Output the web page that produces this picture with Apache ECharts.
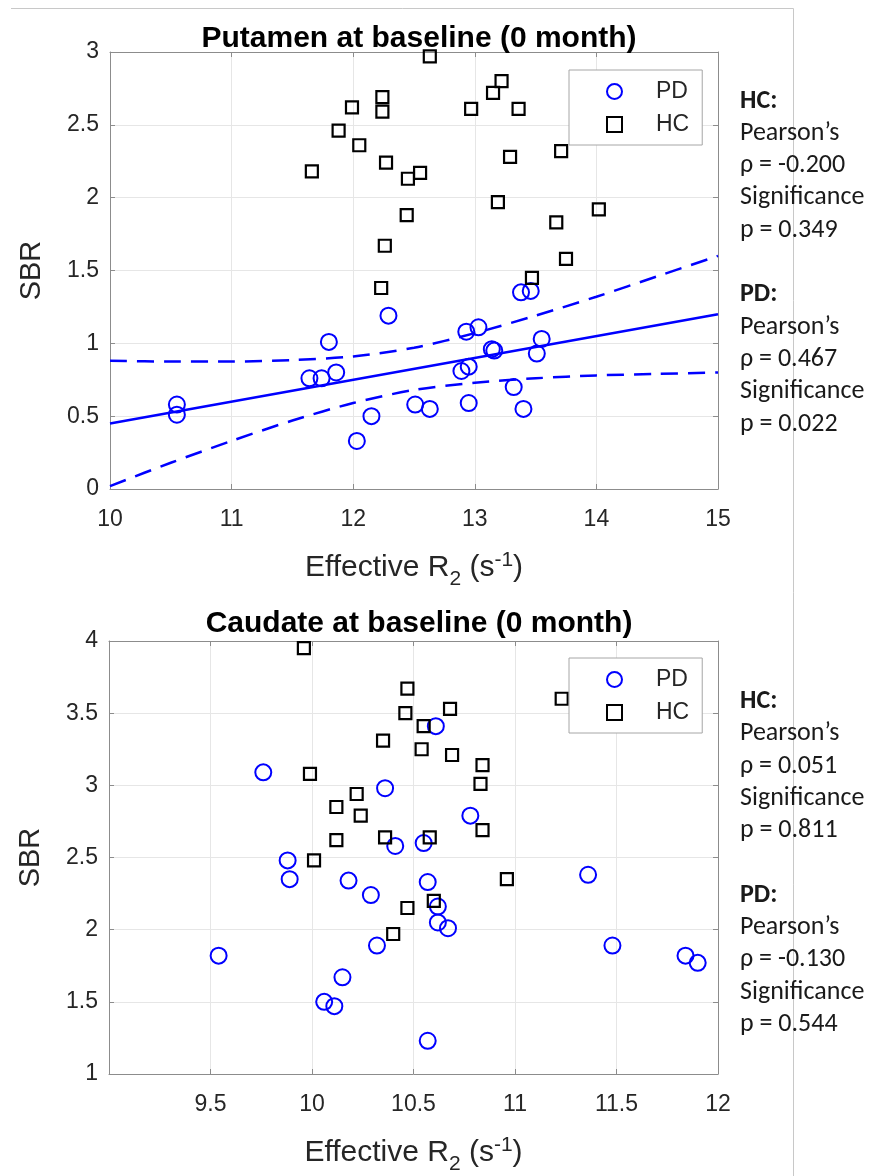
<!DOCTYPE html>
<html><head><meta charset="utf-8">
<script src="https://cdn.jsdelivr.net/npm/echarts@6/dist/echarts.min.js"></script>
<style>html,body{margin:0;padding:0;background:#fff}#c{width:877px;height:1176px}</style>
</head><body><div id="c"></div>
<script>
// ---- Putamen (top panel) ----
const pdPutX = [10.55,10.55,11.64,11.74,11.86,11.80,12.29,12.15,12.03,12.51,12.63,12.95,12.89,12.95,12.93,13.03,13.14,13.16,13.32,13.40,13.51,13.55,13.38,13.46];
const pdPutY = [0.58,0.51,0.76,0.76,0.80,1.01,1.19,0.50,0.33,0.58,0.55,0.59,0.81,0.84,1.08,1.11,0.96,0.95,0.70,0.55,0.93,1.03,1.35,1.36];
const hcPutX = [12.63,12.24,12.24,11.99,11.88,12.05,12.27,11.66,12.45,12.55,12.44,12.26,12.23,13.22,13.15,12.97,13.36,13.29,13.71,13.19,14.02,13.67,13.75,13.47];
const hcPutY = [2.97,2.69,2.59,2.62,2.46,2.36,2.24,2.18,2.13,2.17,1.88,1.67,1.38,2.80,2.72,2.61,2.61,2.28,2.32,1.97,1.92,1.83,1.58,1.45];
const fitPutX = [10, 15];
const fitPutY = [0.45, 1.20];
const ciPutX = [10,10.5,11,11.5,12,12.5,13,13.5,14,14.5,15];
const ciPutUpper = [0.88,0.875,0.875,0.885,0.91,0.97,1.07,1.19,1.32,1.46,1.60];
const ciPutLower = [0.02,0.18,0.33,0.47,0.59,0.68,0.73,0.76,0.78,0.79,0.80];

// ---- Caudate (bottom panel) ----
const pdCauX = [9.76,10.36,10.41,10.55,9.88,10.61,10.78,9.89,10.18,10.29,10.32,10.15,10.06,10.11,9.54,10.57,10.57,10.62,10.62,10.67,11.36,11.48,11.84,11.90];
const pdCauY = [3.09,2.98,2.58,2.60,2.48,3.41,2.79,2.35,2.34,2.24,1.89,1.67,1.50,1.47,1.82,1.23,2.33,2.16,2.05,2.01,2.38,1.89,1.82,1.77];
const hcCauX = [9.96,10.47,10.46,10.55,10.35,10.54,9.99,10.22,10.12,10.24,10.12,10.36,10.01,10.68,10.69,10.84,10.83,10.84,10.58,11.23,10.47,10.40,10.96,10.60];
const hcCauY = [3.95,3.67,3.50,3.41,3.31,3.25,3.08,2.94,2.85,2.79,2.62,2.64,2.48,3.53,3.21,3.14,3.01,2.69,2.64,3.60,2.15,1.97,2.35,2.20];

// ---- Text ----
const titles = ['Putamen at baseline (0 month)', 'Caudate at baseline (0 month)'];
const legendNames = ['PD', 'HC'];
const yName = 'SBR';
const annoPut = ['HC:', 'Pearson’s', 'ρ = -0.200', 'Significance', 'p = 0.349', '', 'PD:', 'Pearson’s', 'ρ = 0.467', 'Significance', 'p = 0.022'];
const annoCau = ['HC:', 'Pearson’s', 'ρ = 0.051', 'Significance', 'p = 0.811', '', 'PD:', 'Pearson’s', 'ρ = -0.130', 'Significance', 'p = 0.544'];

const zip = (a, b) => a.map((v, i) => [v, b[i]]);
const FONT = 'Liberation Sans, Arial, Helvetica, sans-serif';
const TXT = '#262626', AX = '#8c8c8c', GRIDC = '#e6e6e6', BLUE = '#0000ff';

const grids = [
  {left: 110, top: 52, width: 608, height: 437},
  {left: 109, top: 641, width: 609, height: 434}
];
const xr = [{min: 10, max: 15, interval: 1}, {min: 9, max: 12, interval: 0.5}];
const yr = [{min: 0, max: 3, interval: 0.5}, {min: 1, max: 4, interval: 0.5}];

const xNameRich = '{b|Effective R}{s|2}{b| (s}{p|-1}{b|)}';

const xAxes = [], yAxes = [];
[0, 1].forEach(g => {
  xAxes.push({
    type: 'value', gridIndex: g, position: 'bottom', min: xr[g].min, max: xr[g].max, interval: xr[g].interval,
    name: xNameRich, nameLocation: 'middle', nameGap: 57,
    nameTextStyle: {
      rich: {
        b: {fontSize: 30, fontFamily: FONT, color: TXT, lineHeight: 44, verticalAlign: 'middle'},
        s: {fontSize: 21, fontFamily: FONT, color: TXT, lineHeight: 20, verticalAlign: 'bottom'},
        p: {fontSize: 21, fontFamily: FONT, color: TXT, lineHeight: 20, verticalAlign: 'top', padding: [4, 0, 0, 0]}
      }
    },
    axisLine: {show: true, onZero: false, lineStyle: {color: AX, width: 1}},
    axisTick: {show: true, inside: true, length: 5, lineStyle: {color: AX}},
    axisLabel: {show: true, fontSize: 23, fontFamily: FONT, color: TXT, margin: 19,
      formatter: v => (g === 1 && v === 9) ? '' : String(v)},
    splitLine: {show: true, lineStyle: {color: GRIDC, width: 1}}
  });
  xAxes.push({
    type: 'value', gridIndex: g, position: 'top', min: xr[g].min, max: xr[g].max, interval: xr[g].interval,
    axisLine: {show: true, onZero: false, lineStyle: {color: AX, width: 1}},
    axisTick: {show: true, inside: true, length: 5, lineStyle: {color: AX}},
    axisLabel: {show: false}, splitLine: {show: false}
  });
  yAxes.push({
    type: 'value', gridIndex: g, position: 'left', min: yr[g].min, max: yr[g].max, interval: yr[g].interval,
    name: yName, nameLocation: 'middle', nameGap: 64, nameRotate: 90,
    nameTextStyle: {fontSize: 29, fontFamily: FONT, color: TXT},
    axisLine: {show: true, onZero: false, lineStyle: {color: AX, width: 1}},
    axisTick: {show: true, inside: true, length: 5, lineStyle: {color: AX}},
    axisLabel: {show: true, fontSize: 23, fontFamily: FONT, color: TXT, margin: 11},
    splitLine: {show: true, lineStyle: {color: GRIDC, width: 1}}
  });
  yAxes.push({
    type: 'value', gridIndex: g, position: 'right', min: yr[g].min, max: yr[g].max, interval: yr[g].interval,
    axisLine: {show: true, onZero: false, lineStyle: {color: AX, width: 1}},
    axisTick: {show: true, inside: true, length: 5, lineStyle: {color: AX}},
    axisLabel: {show: false}, splitLine: {show: false}
  });
});

function scat(name, data, g, isPD) {
  return {
    type: 'scatter', name: name, xAxisIndex: g * 2, yAxisIndex: g * 2, data: data,
    symbol: isPD ? 'circle' : 'rect', symbolSize: isPD ? 16 : 12,
    itemStyle: {color: 'rgba(255,255,255,0)', borderColor: isPD ? BLUE : '#000000', borderWidth: isPD ? 2 : 2.2, opacity: 1},
    emphasis: {disabled: true}, silent: true, z: 3
  };
}
function line(data, dashed) {
  return {
    type: 'line', xAxisIndex: 0, yAxisIndex: 0, data: data, symbol: 'none', smooth: dashed ? 0.3 : false,
    lineStyle: {color: BLUE, width: 2.5, type: dashed ? [17, 10] : 'solid'},
    emphasis: {disabled: true}, silent: true, z: 4
  };
}

const series = [
  scat('PD', zip(pdPutX, pdPutY), 0, true),
  scat('HC', zip(hcPutX, hcPutY), 0, false),
  line(zip(fitPutX, fitPutY), false),
  line(zip(ciPutX, ciPutUpper), true),
  line(zip(ciPutX, ciPutLower), true),
  scat('PD', zip(pdCauX, pdCauY), 1, true),
  scat('HC', zip(hcCauX, hcCauY), 1, false)
];

function legendAt(top) {
  return {
    left: 569, top: top, orient: 'vertical', data: legendNames,
    itemWidth: 15, itemHeight: 15, itemGap: 10, padding: [10, 13, 9, 37],
    borderColor: '#a6a6a6', borderWidth: 1, backgroundColor: '#ffffff', selectedMode: false,
    textStyle: {fontSize: 23, fontFamily: FONT, color: TXT, lineHeight: 20, padding: [0, 0, 0, 29]}
  };
}

const graphics = [
  {type: 'line', shape: {x1: 11, y1: 8.5, x2: 793.5, y2: 8.5}, style: {stroke: '#c8c8c8', lineWidth: 1}, silent: true},
  {type: 'line', shape: {x1: 793.5, y1: 8.5, x2: 793.5, y2: 1176}, style: {stroke: '#c8c8c8', lineWidth: 1}, silent: true}
];
function addAnno(lines, cy0) {
  lines.forEach((t, i) => {
    if (!t) return;
    const bold = t.endsWith(':');
    graphics.push({
      type: 'text', left: 740, top: cy0 + i * 32.3 - 17, silent: true, z: 10,
      style: {text: t, fontSize: 26, fontFamily: 'Carlito, Lato, sans-serif', fontWeight: bold ? 'bold' : 'normal',
        fill: '#1a1a1a', lineHeight: 34}
    });
  });
}
addAnno(annoPut, 101);
addAnno(annoCau, 701.5);

const option = {
  animation: false,
  backgroundColor: '#ffffff',
  title: [
    {text: titles[0], left: 414, textAlign: 'center', top: 18, textStyle: {fontSize: 30, fontWeight: 'bold', fontFamily: FONT, color: '#000', lineHeight: 32}},
    {text: titles[1], left: 414, textAlign: 'center', top: 603, textStyle: {fontSize: 30, fontWeight: 'bold', fontFamily: FONT, color: '#000', lineHeight: 32}}
  ],
  grid: grids.map(g => Object.assign({containLabel: false, show: false}, g)),
  xAxis: xAxes,
  yAxis: yAxes,
  legend: [legendAt(70), legendAt(658)],
  series: series,
  graphic: graphics
};

const chart = echarts.init(document.getElementById('c'), null, {renderer: 'canvas'});
chart.setOption(option);
</script>
</body></html>
